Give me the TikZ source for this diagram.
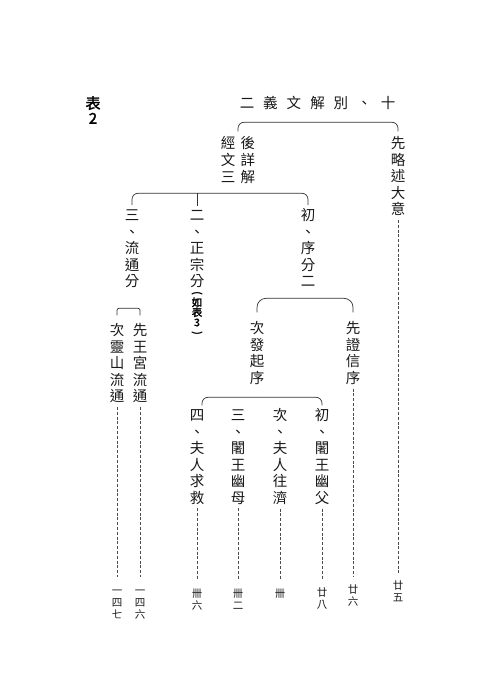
\documentclass[tikz,border=0pt]{standalone}
\usepackage{fontspec}
\newfontfamily\cjk{Noto Sans CJK TC}
\newfontfamily\cjkb[FakeBold=2]{Noto Sans CJK TC}
\newcommand\mystrut{\rule{0pt}{12pt}}
\newcommand\labstrut{\rule{0pt}{9pt}}
\newcommand\vlp{\rotatebox[origin=c]{-90}{(}}
\newcommand\vrp{\rotatebox[origin=c]{-90}{)}}
\begin{document}
\begin{tikzpicture}[x=1pt,y=-1pt,
  vcol/.style={font=\cjk\fontsize{14.5}{16.5}\selectfont, align=center, inner sep=0pt, anchor=north, text=black!90},
  lab/.style={font=\cjk\fontsize{10.5}{12}\selectfont, align=center, inner sep=0pt, anchor=north, text=black!90},
  br/.style={draw=black!80, line width=0.7pt, rounded corners=6pt},
  dl/.style={draw=black!70, line width=0.65pt, dash pattern=on 3pt off 1.8pt}]
\useasboundingbox[fill=white] (0,0) rectangle (490,700);

% title
\node[font=\cjk\fontsize{14.5}{16}\selectfont, inner sep=0pt, text=black!90] (title) at (317.5,103)
  {二\hspace{9pt}義\hspace{9pt}文\hspace{9pt}解\hspace{9pt}別\hspace{9pt}、\hspace{9pt}十};
\node[font=\cjkb\fontsize{15}{15}\selectfont, align=center, inner sep=0pt] (tab) at (93,110) {表\\2};

% level 1
\node[vcol, font=\cjk\fontsize{14.5}{16.8}\selectfont] (head) at (238,136.3) {\mystrut 經\hspace{5.5pt}後\\文\hspace{5.5pt}詳\\三\hspace{5.5pt}解};
\node[vcol] (xl) at (398,136.3) {\mystrut 先\\略\\述\\大\\意};

% level 2
\node[vcol] (c3) at (132,208.3) {\mystrut 三\\、\\流\\通\\分};
\node[vcol] (c2) at (197,208.3) {\mystrut 二\\、\\正\\宗\\分};
\node[font=\cjkb\fontsize{10.5}{10}\selectfont, align=center, inner sep=0pt, anchor=north] (rb) at (197,291) {\vlp\\如\\表\\3\\\vrp};
\node[vcol] (c1) at (308,208.3) {\mystrut 初\\、\\序\\分\\二};

% level 3
\node[vcol] (fa) at (257,321.3) {\mystrut 次\\發\\起\\序};
\node[vcol] (zx) at (353,321.3) {\mystrut 先\\證\\信\\序};
\node[vcol] (ls) at (117,323.3) {\mystrut 次\\靈\\山\\流\\通};
\node[vcol] (wg) at (140,323.3) {\mystrut 先\\王\\宮\\流\\通};

% level 4
\node[vcol] (d4) at (197,408.3) {\mystrut 四\\、\\夫\\人\\求\\救};
\node[vcol] (d3) at (238,408.3) {\mystrut 三\\、\\闍\\王\\幽\\母};
\node[vcol] (d2) at (280,408.3) {\mystrut 次\\、\\夫\\人\\往\\濟};
\node[vcol] (d1) at (322,408.3) {\mystrut 初\\、\\闍\\王\\幽\\父};

% page labels
\node[lab] (l25) at (398,580) {\labstrut 廿\\五};
\node[lab] (l26) at (353,584) {\labstrut 廿\\六};
\node[lab] (l28) at (322,587) {\labstrut 廿\\八};
\node[lab] (l30) at (280,588) {\labstrut 卌};
\node[lab] (l32) at (238,588) {\labstrut 卌\\二};
\node[lab] (l36) at (197,588) {\labstrut 卌\\六};
\node[lab] (l146) at (140,585) {\labstrut 一\\四\\六};
\node[lab] (l147) at (117,585) {\labstrut 一\\四\\七};

% brackets
\draw[br] ([yshift=5pt]head.north) |- ([yshift=14pt]xl.north) -- ([yshift=5pt]xl.north);
\draw[br] ([yshift=3.5pt]c3.north) |- ([yshift=15pt]c1.north) -- ([yshift=3.5pt]c1.north);
\draw[br] ([yshift=15pt]c2.north) -- ([yshift=2pt]c2.north);
\draw[br, rounded corners=2pt] ([yshift=8pt]ls.north) |- ([yshift=15pt]wg.north) -- ([yshift=8pt]wg.north);
\draw[br, rounded corners=9pt] ([yshift=9pt]fa.north) |- ([yshift=23pt]zx.north) -- ([yshift=9pt]zx.north);
\draw[br] ([xshift=5pt,yshift=3pt]d4.north) |- ([yshift=11pt]d1.north) -- ([yshift=3pt]d1.north);

% dashed leaders
\draw[dl] ([yshift=-4pt]xl.south) -- ([yshift=6pt]l25.north);
\draw[dl] ([yshift=-4pt]zx.south) -- ([yshift=8pt]l26.north);
\draw[dl] ([yshift=-4pt]d1.south) -- ([yshift=8pt]l28.north);
\draw[dl] ([yshift=-4pt]d2.south) -- ([yshift=8pt]l30.north);
\draw[dl] ([yshift=-4pt]d3.south) -- ([yshift=8pt]l32.north);
\draw[dl] ([yshift=-4pt]d4.south) -- ([yshift=8pt]l36.north);
\draw[dl] ([yshift=-4pt]wg.south) -- ([yshift=8pt]l146.north);
\draw[dl] ([yshift=-4pt]ls.south) -- ([yshift=8pt]l147.north);
\end{tikzpicture}
\end{document}
